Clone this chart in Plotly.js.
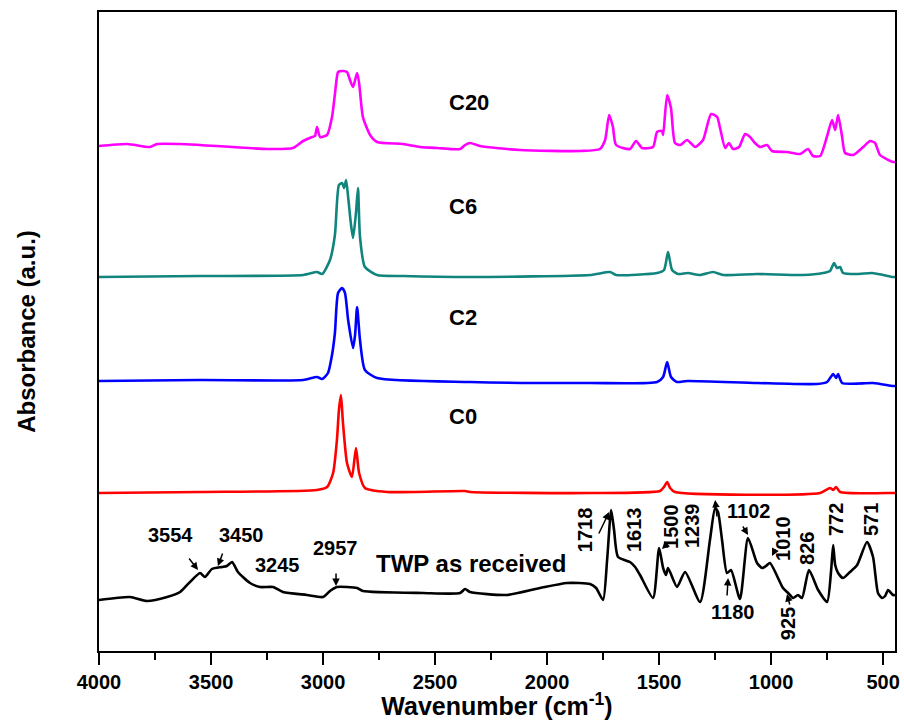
<!DOCTYPE html>
<html>
<head>
<meta charset="utf-8">
<script src="https://cdn.plot.ly/plotly-3.0.1.min.js"></script>
<style>html,body{margin:0;padding:0;background:#fff;}#chart{width:904px;height:720px;}</style>
</head>
<body>
<div id="chart"></div>
<script>
// Wavenumbers (cm-1) and stacked absorbance (a.u.)
const twpX = [4000,3862,3786,3696,3638,3594,3549,3527,3496,3451,3429,3406,3380,3326,3281,3223,3179,3072,3000,2969,2938,2848,2822,2554,2388,2366,2344,2179,2031,1911,1808,1781,1750,1732,1714,1701,1683,1630,1607,1585,1527,1500,1482,1469,1460,1420,1384,1317,1273,1250,1237,1219,1197,1179,1139,1103,1063,1040,1023,1005,947,924,902,880,862,831,790,750,732,723,714,701,679,648,616,572,545,523,505,491,478,456,447];
const twpY = [0.51,0.54,0.50,0.54,0.59,0.69,0.78,0.74,0.82,0.84,0.85,0.89,0.79,0.68,0.64,0.64,0.59,0.56,0.54,0.60,0.64,0.63,0.60,0.58,0.58,0.62,0.59,0.56,0.63,0.68,0.67,0.63,0.51,0.91,1.41,1.21,0.94,0.89,0.84,0.76,0.53,1.03,0.83,0.76,0.83,0.64,0.79,0.49,1.11,1.43,1.39,1.11,0.78,0.81,0.52,1.13,0.88,0.83,0.85,0.88,0.63,0.58,0.53,0.56,0.53,0.81,0.61,0.49,0.81,1.06,0.86,0.78,0.73,0.79,0.86,1.09,0.94,0.58,0.53,0.55,0.61,0.56,0.56];

const c0X = [4000,3549,3027,2982,2955,2938,2929,2920,2911,2893,2871,2853,2839,2813,2714,2366,2344,1808,1496,1478,1464,1451,1429,781,737,723,710,692,456,447];
const c0Y = [1.58,1.59,1.61,1.64,1.78,2.11,2.41,2.56,2.28,1.88,1.74,2.03,1.78,1.63,1.59,1.60,1.59,1.58,1.60,1.64,1.69,1.63,1.59,1.58,1.63,1.61,1.64,1.59,1.58,1.58];

const c2X = [4000,3549,3089,3027,3004,2978,2960,2947,2933,2915,2902,2888,2866,2857,2848,2835,2813,2759,2344,1808,1509,1482,1464,1447,1420,1375,1063,795,750,723,710,701,683,545,456,447];
const c2Y = [2.70,2.71,2.71,2.74,2.72,2.78,2.96,3.18,3.58,3.63,3.58,3.31,3.03,3.16,3.44,3.11,2.81,2.73,2.69,2.68,2.69,2.74,2.89,2.74,2.69,2.70,2.68,2.67,2.69,2.77,2.73,2.77,2.68,2.68,2.65,2.65];

const c6X = [4000,3549,3089,3027,3004,2969,2947,2929,2915,2906,2897,2888,2875,2866,2853,2844,2835,2813,2759,2643,2344,1808,1719,1692,1509,1478,1460,1442,1415,1371,1317,1259,1214,1063,857,768,737,719,706,692,679,616,549,500,456,447];
const c6Y = [3.74,3.75,3.76,3.79,3.77,3.91,4.16,4.66,4.68,4.63,4.71,4.54,4.26,4.13,4.38,4.63,4.14,3.84,3.76,3.75,3.74,3.76,3.79,3.76,3.78,3.81,3.99,3.81,3.77,3.78,3.76,3.79,3.76,3.77,3.76,3.78,3.80,3.88,3.83,3.84,3.78,3.77,3.78,3.76,3.74,3.74];

const c20X = [4000,3875,3772,3741,3638,3549,3250,3134,3089,3049,3036,3027,3013,2982,2960,2938,2933,2911,2893,2880,2866,2848,2839,2822,2790,2759,2643,2567,2491,2388,2366,2344,2299,2121,1853,1764,1741,1723,1706,1692,1630,1603,1576,1527,1509,1487,1482,1464,1447,1429,1406,1375,1339,1304,1268,1241,1228,1205,1188,1170,1143,1116,1094,1072,1049,1018,996,929,871,835,813,781,750,728,714,701,683,670,634,589,558,536,514,456,447];
const c20Y = [5.05,5.07,5.04,5.07,5.07,5.06,5.02,5.03,5.10,5.14,5.15,5.24,5.14,5.16,5.34,5.74,5.79,5.80,5.79,5.71,5.64,5.78,5.68,5.34,5.16,5.09,5.07,5.04,5.03,5.02,5.06,5.08,5.05,5.01,5.00,5.02,5.11,5.36,5.24,5.06,5.02,5.10,5.03,5.04,5.19,5.20,5.16,5.56,5.43,5.08,5.06,5.11,5.04,5.11,5.37,5.34,5.23,5.03,5.08,5.02,5.04,5.17,5.14,5.08,5.04,5.06,5.00,4.99,4.97,5.02,4.95,4.95,5.15,5.31,5.21,5.36,5.14,4.98,4.96,5.04,5.10,5.08,4.96,4.89,4.89];

const seriesNames = ['TWP as received','C0','C2','C6','C20'];
const seriesColors = ['#000000','#FF0000','#0000FF','#11857D','#FF00FF'];
const seriesLabels = ['C0','C2','C6','C20'];
const seriesLabelX = [2375,2375,2375,2348];
const seriesLabelY = [2.35,3.34,4.45,5.49];

// Peak labels of the TWP spectrum: [text, x, y, angle]
const peakLabels = [
  ['3554',3679,1.16,0],['3450',3366,1.16,0],['3245',3205,0.86,0],['2957',2946,1.03,0],
  ['1718',1830,1.21,-90],['1613',1612,1.21,-90],['1500',1447,1.25,-90],['1239',1353,1.25,-90],
  ['1102',1103,1.40,0],['1010',947,1.13,-90],['826',840,1.03,-90],['772',710,1.31,-90],
  ['571',554,1.31,-90],['1180',1174,0.39,0],['925',924,0.27,-90]
];
// Arrows: [tailX, tailY, headX, headY]
const peakArrows = [
  [3603,0.94,3558,0.81],[3446,0.99,3469,0.85],[2942,0.79,2942,0.65],
  [1772,1.16,1723,1.39],[1451,1.10,1487,1.02],[1241,1.33,1250,1.51],
  [1130,1.26,1103,1.16],[978,1.03,996,0.95],[1197,0.54,1192,0.73],[915,0.45,929,0.57]
];

const xs = [twpX,c0X,c2X,c6X,c20X];
const ys = [twpY,c0Y,c2Y,c6Y,c20Y];
const traces = xs.map((x,i)=>({
  x:x, y:ys[i], type:'scatter', mode:'lines', name:seriesNames[i],
  line:{color:seriesColors[i], width:2.6, shape:'spline', smoothing:0.6},
  hoverinfo:'x+y'
}));

const ann = [];
const bold = {family:'Liberation Sans, Arial, sans-serif', size:20, color:'#000'};
seriesLabels.forEach((t,i)=>ann.push({x:seriesLabelX[i], y:seriesLabelY[i], xref:'x', yref:'y', text:'<b>'+t+'</b>', showarrow:false, font:{family:bold.family,size:22,color:'#000'}}));
ann.push({x:2339, y:0.88, xref:'x', yref:'y', text:'<b>TWP as received</b>', showarrow:false, font:{family:bold.family,size:24,color:'#000'}});
peakLabels.forEach(p=>ann.push({x:p[1], y:p[2], xref:'x', yref:'y', text:'<b>'+p[0]+'</b>', textangle:p[3], showarrow:false, font:bold}));
peakArrows.forEach(a=>ann.push({x:a[2], y:a[3], xref:'x', yref:'y', ax:a[0], ay:a[1], axref:'x', ayref:'y', text:'', showarrow:true, arrowhead:2, arrowsize:1, arrowwidth:1.5, arrowcolor:'#000'}));

const layout = {
  width:904, height:720,
  margin:{l:99, r:9, t:12, b:69},
  paper_bgcolor:'#fff', plot_bgcolor:'#fff',
  showlegend:false,
  font:{family:'Liberation Sans, Arial, sans-serif', color:'#000'},
  xaxis:{
    range:[4000,447], showgrid:false, zeroline:false,
    showline:true, linecolor:'#000', linewidth:2, mirror:true,
    ticks:'outside', ticklen:12, tickwidth:2, tickcolor:'#000',
    tickvals:[4000,3500,3000,2500,2000,1500,1000,500],
    ticktext:['<b>4000</b>','<b>3500</b>','<b>3000</b>','<b>2500</b>','<b>2000</b>','<b>1500</b>','<b>1000</b>','<b>500</b>'],
    tickfont:{size:20, color:'#000'},
    minor:{tickvals:[3750,3250,2750,2250,1750,1250,750], ticks:'outside', ticklen:7, tickwidth:2, tickcolor:'#000', showgrid:false},
    title:{text:'<b>Wavenumber (cm<sup>-1</sup>)</b>', font:{size:25, color:'#000'}, standoff:2}
  },
  yaxis:{
    range:[0,6.39], showgrid:false, zeroline:false,
    showline:true, linecolor:'#000', linewidth:2, mirror:true,
    ticks:'', showticklabels:false,
    title:{text:'<b>Absorbance (a.u.)</b>', font:{size:24, color:'#000'}, standoff:55}
  },
  annotations:ann
};
Plotly.newPlot('chart', traces, layout, {displayModeBar:false, staticPlot:true});
</script>
</body>
</html>
